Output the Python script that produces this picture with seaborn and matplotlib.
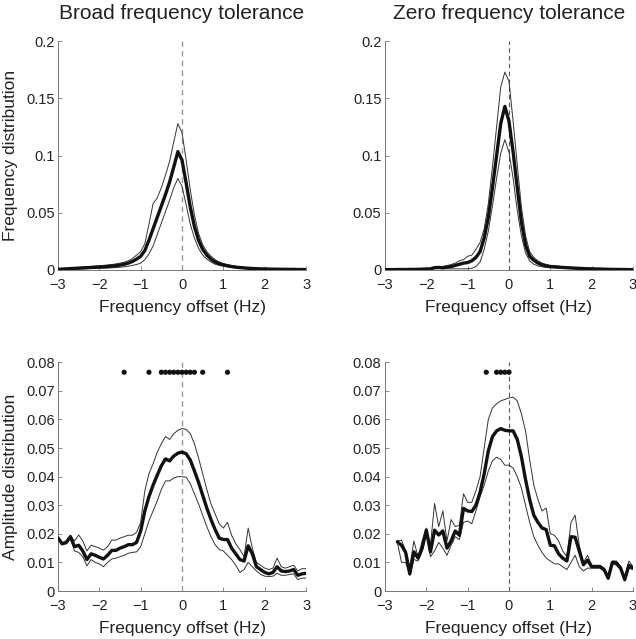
import numpy as np
import pandas as pd
import matplotlib
matplotlib.use("Agg")
import matplotlib.pyplot as plt
import seaborn as sns

# ---------------- data ----------------
titles = ["Broad frequency tolerance", "Zero frequency tolerance"]
ylabel_top = "Frequency distribution"
ylabel_bottom = "Amplitude distribution"
xlabel = "Frequency offset (Hz)"

x_full = np.round(np.arange(-30, 31) / 10, 1)          # -3.0 .. 3.0
x_br = np.round(np.arange(-27, 31) / 10, 1)            # -2.7 .. 3.0

# top-left (broad, frequency distribution)
tl_mean = [0.0005, 0.0008, 0.0010, 0.0012, 0.0014, 0.0016, 0.0018, 0.0020, 0.0022, 0.0024,
           0.0026, 0.0028, 0.0030, 0.0034, 0.0038, 0.0043, 0.0050, 0.0060, 0.0075, 0.0095,
           0.0120, 0.0170, 0.0260, 0.0360, 0.0460, 0.0560, 0.0660, 0.0770, 0.0900, 0.1035,
           0.0960, 0.0760, 0.0550, 0.0380, 0.0260, 0.0180, 0.0130, 0.0095, 0.0070, 0.0055,
           0.0045, 0.0037, 0.0030, 0.0025, 0.0021, 0.0018, 0.0015, 0.0013, 0.0011, 0.0010,
           0.0009, 0.0008, 0.0007, 0.0007, 0.0006, 0.0006, 0.0005, 0.0005, 0.0004, 0.0004, 0.0003]
tl_upper = [0.0008, 0.0011, 0.0014, 0.0016, 0.0019, 0.0022, 0.0025, 0.0028, 0.0031, 0.0034,
            0.0037, 0.0040, 0.0044, 0.0048, 0.0053, 0.0060, 0.0068, 0.0080, 0.0100, 0.0130,
            0.0160, 0.0230, 0.0400, 0.0580, 0.0630, 0.0720, 0.0830, 0.0950, 0.1120, 0.1280,
            0.1200, 0.0960, 0.0700, 0.0480, 0.0320, 0.0220, 0.0160, 0.0120, 0.0090, 0.0070,
            0.0055, 0.0045, 0.0038, 0.0032, 0.0027, 0.0023, 0.0020, 0.0017, 0.0015, 0.0013,
            0.0012, 0.0011, 0.0010, 0.0009, 0.0008, 0.0008, 0.0007, 0.0007, 0.0006, 0.0006, 0.0005]
tl_lower = [0.0002, 0.0004, 0.0006, 0.0008, 0.0009, 0.0010, 0.0011, 0.0012, 0.0013, 0.0014,
            0.0015, 0.0016, 0.0017, 0.0019, 0.0021, 0.0024, 0.0028, 0.0033, 0.0040, 0.0048,
            0.0060, 0.0090, 0.0140, 0.0210, 0.0310, 0.0410, 0.0510, 0.0610, 0.0720, 0.0800,
            0.0730, 0.0570, 0.0400, 0.0280, 0.0190, 0.0130, 0.0095, 0.0070, 0.0050, 0.0040,
            0.0033, 0.0027, 0.0022, 0.0018, 0.0015, 0.0013, 0.0011, 0.0009, 0.0008, 0.0007,
            0.0006, 0.0005, 0.0005, 0.0004, 0.0004, 0.0003, 0.0003, 0.0003, 0.0002, 0.0002, 0.0002]

# top-right (zero, frequency distribution)
tr_mean = [0.0003, 0.0003, 0.0003, 0.0004, 0.0004, 0.0004, 0.0005, 0.0005, 0.0006, 0.0007,
           0.0008, 0.0010, 0.0020, 0.0022, 0.0020, 0.0025, 0.0030, 0.0040, 0.0050, 0.0060,
           0.0065, 0.0080, 0.0110, 0.0160, 0.0280, 0.0460, 0.0720, 0.1000, 0.1280, 0.1430,
           0.1300, 0.1030, 0.0720, 0.0420, 0.0220, 0.0120, 0.0085, 0.0060, 0.0045, 0.0035,
           0.0030, 0.0028, 0.0025, 0.0022, 0.0020, 0.0018, 0.0016, 0.0014, 0.0012, 0.0011,
           0.0010, 0.0009, 0.0008, 0.0007, 0.0006, 0.0005, 0.0005, 0.0004, 0.0004, 0.0003, 0.0003]
tr_upper = [0.0005, 0.0005, 0.0005, 0.0006, 0.0006, 0.0006, 0.0007, 0.0007, 0.0008, 0.0009,
            0.0010, 0.0013, 0.0025, 0.0030, 0.0030, 0.0038, 0.0048, 0.0060, 0.0080, 0.0090,
            0.0120, 0.0130, 0.0180, 0.0240, 0.0360, 0.0580, 0.0900, 0.1250, 0.1600, 0.1730,
            0.1650, 0.1300, 0.0920, 0.0550, 0.0300, 0.0160, 0.0110, 0.0080, 0.0060, 0.0048,
            0.0040, 0.0036, 0.0032, 0.0028, 0.0025, 0.0022, 0.0020, 0.0018, 0.0016, 0.0014,
            0.0013, 0.0012, 0.0011, 0.0010, 0.0009, 0.0008, 0.0007, 0.0006, 0.0006, 0.0005, 0.0005]
tr_lower = [0.0001, 0.0001, 0.0001, 0.0002, 0.0002, 0.0002, 0.0003, 0.0003, 0.0004, 0.0005,
            0.0005, 0.0006, 0.0012, 0.0012, 0.0010, 0.0010, 0.0010, 0.0010, 0.0010, 0.0010,
            0.0010, 0.0015, 0.0030, 0.0070, 0.0180, 0.0340, 0.0560, 0.0800, 0.1020, 0.1140,
            0.1030, 0.0800, 0.0520, 0.0300, 0.0150, 0.0080, 0.0050, 0.0035, 0.0028, 0.0022,
            0.0020, 0.0018, 0.0016, 0.0014, 0.0013, 0.0012, 0.0011, 0.0010, 0.0009, 0.0008,
            0.0007, 0.0006, 0.0005, 0.0005, 0.0004, 0.0004, 0.0003, 0.0003, 0.0002, 0.0002, 0.0002]

# bottom-left (broad, amplitude distribution)
bl_mean = [0.0186, 0.0165, 0.0170, 0.0190, 0.0155, 0.0160, 0.0140, 0.0110, 0.0130, 0.0125,
           0.0118, 0.0112, 0.0125, 0.0142, 0.0142, 0.0150, 0.0155, 0.0162, 0.0162, 0.0170,
           0.0210, 0.0280, 0.0330, 0.0370, 0.0405, 0.0438, 0.0462, 0.0455, 0.0472, 0.0482,
           0.0486, 0.0480, 0.0458, 0.0420, 0.0380, 0.0335, 0.0290, 0.0250, 0.0215, 0.0185,
           0.0180, 0.0180, 0.0150, 0.0130, 0.0110, 0.0105, 0.0158, 0.0130, 0.0085, 0.0075,
           0.0065, 0.0060, 0.0065, 0.0085, 0.0070, 0.0068, 0.0070, 0.0075, 0.0055, 0.0060, 0.0062]
bl_upper = [0.0186, 0.0168, 0.0175, 0.0195, 0.0175, 0.0196, 0.0175, 0.0140, 0.0160, 0.0155,
            0.0150, 0.0143, 0.0155, 0.0178, 0.0178, 0.0185, 0.0190, 0.0195, 0.0195, 0.0205,
            0.0240, 0.0350, 0.0410, 0.0445, 0.0485, 0.0515, 0.0540, 0.0530, 0.0550, 0.0562,
            0.0568, 0.0565, 0.0550, 0.0515, 0.0465, 0.0410, 0.0355, 0.0305, 0.0270, 0.0235,
            0.0220, 0.0240, 0.0195, 0.0165, 0.0145, 0.0120, 0.0220, 0.0150, 0.0100, 0.0090,
            0.0080, 0.0075, 0.0080, 0.0115, 0.0085, 0.0080, 0.0085, 0.0090, 0.0070, 0.0078, 0.0078]
bl_lower = [0.0186, 0.0163, 0.0165, 0.0185, 0.0140, 0.0135, 0.0120, 0.0088, 0.0110, 0.0100,
            0.0095, 0.0085, 0.0100, 0.0112, 0.0115, 0.0120, 0.0125, 0.0132, 0.0135, 0.0137,
            0.0155, 0.0200, 0.0245, 0.0280, 0.0315, 0.0355, 0.0385, 0.0385, 0.0395, 0.0400,
            0.0400, 0.0398, 0.0375, 0.0340, 0.0305, 0.0265, 0.0225, 0.0190, 0.0162, 0.0145,
            0.0140, 0.0125, 0.0110, 0.0090, 0.0065, 0.0075, 0.0100, 0.0085, 0.0070, 0.0058,
            0.0052, 0.0050, 0.0052, 0.0062, 0.0055, 0.0055, 0.0058, 0.0060, 0.0040, 0.0045, 0.0045]
bl_sig_x = [-1.4, -0.8, -0.5, -0.4, -0.3, -0.2, -0.1, 0.0, 0.1, 0.2, 0.3, 0.5, 1.1]

# bottom-right (zero, amplitude distribution)
br_mean = [0.0172, 0.0160, 0.0135, 0.0060, 0.0137, 0.0115, 0.0150, 0.0213, 0.0137, 0.0213,
           0.0196, 0.0210, 0.0150, 0.0175, 0.0210, 0.0195, 0.0289, 0.0280, 0.0278, 0.0300,
           0.0345, 0.0410, 0.0490, 0.0540, 0.0560, 0.0568, 0.0562, 0.0560, 0.0560, 0.0530,
           0.0470, 0.0390, 0.0320, 0.0265, 0.0240, 0.0220, 0.0215, 0.0160, 0.0158, 0.0130,
           0.0115, 0.0105, 0.0190, 0.0188, 0.0140, 0.0092, 0.0108, 0.0085, 0.0085, 0.0085,
           0.0075, 0.0045, 0.0100, 0.0098, 0.0080, 0.0040, 0.0090, 0.0080]
br_upper = [0.0175, 0.0178, 0.0140, 0.0085, 0.0175, 0.0120, 0.0175, 0.0220, 0.0160, 0.0306,
            0.0225, 0.0280, 0.0175, 0.0250, 0.0225, 0.0230, 0.0340, 0.0310, 0.0310, 0.0350,
            0.0400, 0.0500, 0.0600, 0.0640, 0.0655, 0.0665, 0.0670, 0.0675, 0.0678, 0.0665,
            0.0620, 0.0560, 0.0460, 0.0370, 0.0320, 0.0280, 0.0290, 0.0200, 0.0195, 0.0175,
            0.0140, 0.0120, 0.0240, 0.0265, 0.0160, 0.0100, 0.0125, 0.0090, 0.0090, 0.0090,
            0.0080, 0.0050, 0.0105, 0.0105, 0.0085, 0.0045, 0.0105, 0.0085]
br_lower = [0.0170, 0.0100, 0.0100, 0.0055, 0.0110, 0.0105, 0.0140, 0.0200, 0.0120, 0.0140,
            0.0170, 0.0150, 0.0125, 0.0160, 0.0190, 0.0180, 0.0240, 0.0245, 0.0235, 0.0280,
            0.0330, 0.0370, 0.0420, 0.0455, 0.0468, 0.0460, 0.0440, 0.0440, 0.0430, 0.0400,
            0.0360, 0.0300, 0.0240, 0.0190, 0.0160, 0.0135, 0.0115, 0.0105, 0.0095, 0.0095,
            0.0085, 0.0075, 0.0100, 0.0125, 0.0085, 0.0070, 0.0080, 0.0080, 0.0080, 0.0080,
            0.0070, 0.0040, 0.0095, 0.0090, 0.0075, 0.0035, 0.0080, 0.0075]
br_sig_x = [-0.55, -0.3, -0.2, -0.1, 0.0]
sig_y = 0.0765

xticks = [-3, -2, -1, 0, 1, 2, 3]
xticklabels = ["\u22123", "\u22122", "\u22121", "0", "1", "2", "3"]
yticks_top = [0, 0.05, 0.1, 0.15, 0.2]
yticklabels_top = ["0", "0.05", "0.1", "0.15", "0.2"]
yticks_bot = [0, 0.01, 0.02, 0.03, 0.04, 0.05, 0.06, 0.07, 0.08]
yticklabels_bot = ["0", "0.01", "0.02", "0.03", "0.04", "0.05", "0.06", "0.07", "0.08"]

# ---------------- style ----------------
sns.set_style("ticks")
plt.rcParams["font.family"] = ["Liberation Sans", "DejaVu Sans"]
plt.rcParams.update({
    "xtick.direction": "in", "ytick.direction": "in",
    "xtick.major.size": 3, "ytick.major.size": 3,
    "xtick.major.width": 0.6, "ytick.major.width": 0.6,
    "xtick.color": "#777777", "ytick.color": "#777777",
    "xtick.labelcolor": "#222222", "ytick.labelcolor": "#222222",
    "xtick.labelsize": 10.5, "ytick.labelsize": 10.5,
    "xtick.major.pad": 5.5, "ytick.major.pad": 2.5,
    "axes.edgecolor": "#777777", "axes.linewidth": 0.7,
})

fig = plt.figure(figsize=(6.36, 6.39), dpi=100)
L1, L2, W, H = 0.0912, 0.6053, 0.390, 0.358
ax_tl = fig.add_axes([L1, 0.5775, W, H])
ax_tr = fig.add_axes([L2, 0.5775, W, H])
ax_bl = fig.add_axes([L1, 0.0751, W, H])
ax_br = fig.add_axes([L2, 0.0751, W, H])

panels = [
    (ax_tl, x_full, tl_mean, tl_upper, tl_lower, None, "#999999", (4, 3), 1.0),
    (ax_tr, x_full, tr_mean, tr_upper, tr_lower, None, "#555555", (4, 3), 0.8),
    (ax_bl, x_full, bl_mean, bl_upper, bl_lower, bl_sig_x, "#999999", (4, 3), 1.0),
    (ax_br, x_br, br_mean, br_upper, br_lower, br_sig_x, "#555555", (4, 3), 0.8),
]

for ax, xs, m, u, lo, sig, dcol, dash, dlw in panels:
    df = pd.DataFrame({"x": xs, "mean": m, "upper": u, "lower": lo})
    ax.axvline(0, color=dcol, lw=dlw, dashes=dash, zorder=1)
    sns.lineplot(data=df, x="x", y="upper", ax=ax, color="#333333", lw=0.7, zorder=2)
    sns.lineplot(data=df, x="x", y="lower", ax=ax, color="#333333", lw=0.7, zorder=2)
    sns.lineplot(data=df, x="x", y="mean", ax=ax, color="#111111", lw=2.4, zorder=3)
    if sig is not None:
        sdf = pd.DataFrame({"x": sig, "y": [sig_y] * len(sig)})
        sns.scatterplot(data=sdf, x="x", y="y", ax=ax, color="#111111", s=14,
                        edgecolor="none", zorder=4)
    ax.set_xlim(-3, 3)
    ax.set_xticks(xticks)
    ax.set_xticklabels(xticklabels)
    sns.despine(ax=ax)
    ax.set_xlabel(xlabel, fontsize=12.5, labelpad=6, color="#222222")
    ax.set_ylabel("")

for ax in (ax_tl, ax_tr):
    ax.set_ylim(0, 0.2)
    ax.set_yticks(yticks_top)
    ax.set_yticklabels(yticklabels_top)
for ax in (ax_bl, ax_br):
    ax.set_ylim(0, 0.08)
    ax.set_yticks(yticks_bot)
    ax.set_yticklabels(yticklabels_bot)

ax_tl.set_ylabel(ylabel_top, fontsize=12.5, labelpad=6, color="#222222")
ax_bl.set_ylabel(ylabel_bottom, fontsize=12.5, labelpad=6, color="#222222")
ax_tl.set_title(titles[0], fontsize=15, pad=16, color="#222222")
ax_tr.set_title(titles[1], fontsize=15, pad=16, color="#222222")

fig.savefig("out.png", dpi=100)
